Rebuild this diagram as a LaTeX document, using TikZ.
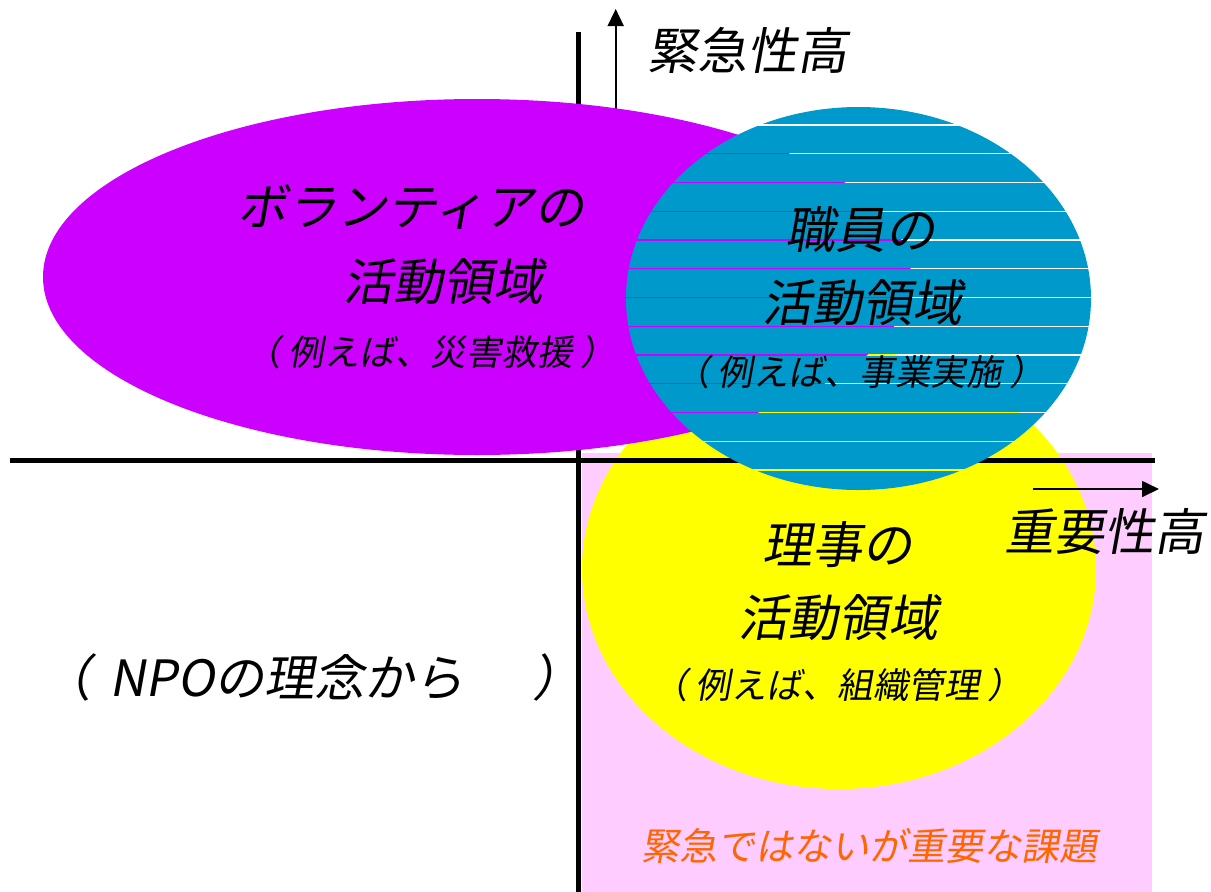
\documentclass[tikz,border=0pt]{standalone}
\usepackage{fontspec}
\newfontfamily\jp[FakeSlant=0.18]{Noto Sans CJK JP}
\usetikzlibrary{arrows.meta}
\definecolor{vpurple}{HTML}{CC00FF}
\definecolor{sblue}{HTML}{0099CC}
\definecolor{ylw}{HTML}{FFFF00}
\definecolor{pnk}{HTML}{FFCCFF}
\definecolor{org}{HTML}{FF6600}
\newcommand{\lp}{（\hspace{8pt}}
\newcommand{\rp}{\hspace{8pt}）}
\begin{document}
\begin{tikzpicture}[x=1pt,y=-1pt,
  big/.style={font=\jp\fontsize{50}{54}\selectfont, inner sep=0pt},
  small/.style={font=\jp\fontsize{35.5}{38}\selectfont, inner sep=0pt},
  note/.style={font=\jp\fontsize{38}{40}\selectfont, inner sep=0pt, text=org},
  axisline/.style={line width=4.6pt},
  dirarrow/.style={line width=1.7pt, -{Triangle[length=17pt,width=16pt]}}]
\useasboundingbox (0,0) rectangle (1211,892);
% pink quadrant
\fill[pnk] (582,453) rectangle (1152,892);
% yellow ellipse
\fill[ylw] (839,569) ellipse [x radius=257, y radius=220];
% axes
\coordinate (vtop) at (578.5,32);
\coordinate (vbot) at (578.5,892);
\coordinate (hl) at (10,460.5);
\coordinate (hr) at (1155,460.5);
\draw[axisline] (vtop) -- (vbot);
\draw[axisline] (hl) -- (hr);
% direction arrows
\coordinate (upS) at (615.7,110);
\coordinate (upE) at (615.7,9);
\draw[dirarrow] (upS) -- (upE);
\coordinate (rtS) at (1033,489);
\coordinate (rtE) at (1159,489);
\draw[dirarrow] (rtS) -- (rtE);
% purple ellipse
\fill[vpurple] (477,277) ellipse [x radius=434, y radius=178];
% striped blue ellipse
\begin{scope}
  \clip (858.5,298.5) ellipse [x radius=232.5, y radius=191.5];
  \foreach \k in {-1,...,13} {
    \fill[sblue] (620,{125+28.75*\k+0.6}) rectangle (1100,{125+28.75*(\k+1)-0.6});
  }
\end{scope}
% texts
\node[big] (kinkyu) at (747,50) {緊急性高};
\node[big] (juyo) at (1104,532) {重要性高};
\node[big] (vol1) at (411,207) {ボランティアの};
\node[big] (vol2) at (443,282) {活動領域};
\node[small] (vol3) at (431,352) {\lp 例えば、災害救援\rp};
\node[big] (sho1) at (860,230) {職員の};
\node[big] (sho2) at (862,303) {活動領域};
\node[small] (sho3) at (860,372) {\lp 例えば、事業実施\rp};
\node[big] (ri1) at (837,545) {理事の};
\node[big] (ri2) at (838,618) {活動領域};
\node[small] (ri3) at (838,685) {\lp 例えば、組織管理\rp};
\node[big, anchor=west] (npo) at (41,677) {（\hspace{18pt}NPOの理念から\hspace{68pt}）};
\node[note] (kadai) at (869,846) {緊急ではないが重要な課題};
\end{tikzpicture}
\end{document}
